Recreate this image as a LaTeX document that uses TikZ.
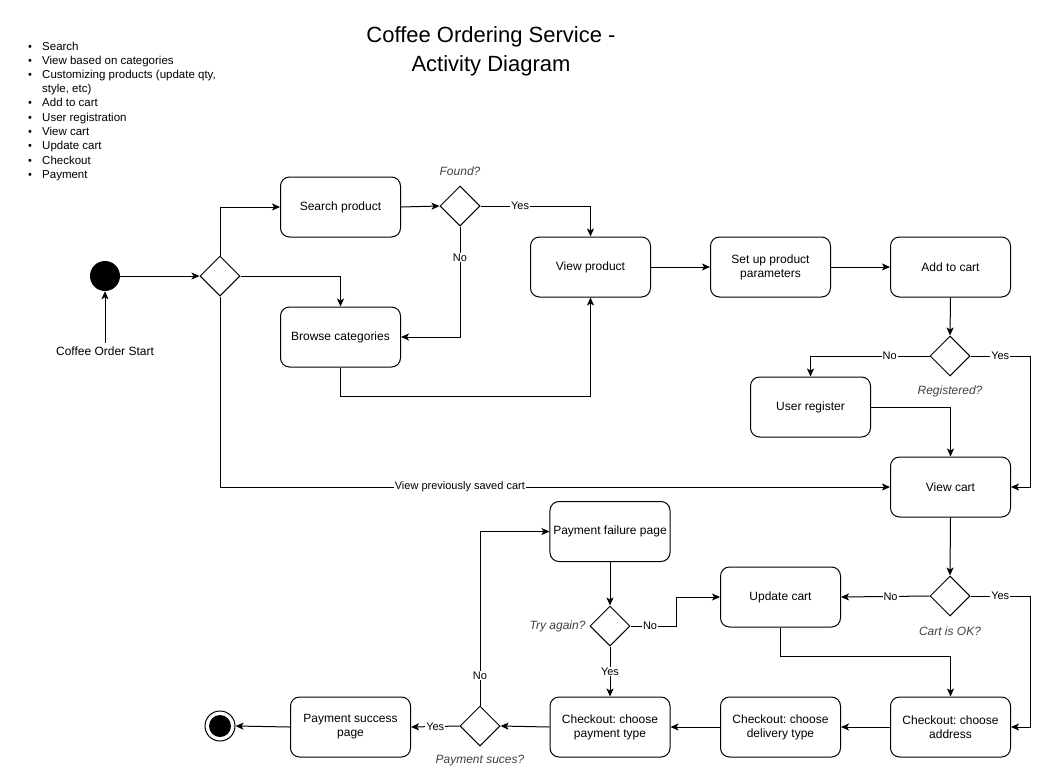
\documentclass[tikz,border=0pt]{standalone}
\usepackage{fontspec}
\setmainfont{Liberation Sans}
\usetikzlibrary{shapes.geometric,arrows.meta}
\frenchspacing
\begin{document}
\begin{tikzpicture}[x=1pt,y=-1pt,
  box/.style={draw, rounded corners=9pt, minimum width=120pt, minimum height=60pt, align=center, line width=1pt, font=\fontsize{12}{14}\selectfont},
  dec/.style={draw, diamond, minimum width=40pt, minimum height=40pt, inner sep=0pt, line width=1pt},
  arr/.style={-{Stealth[length=8pt,width=7pt,inset=2pt]}, line width=1pt},
  lbl/.style={fill=white, inner sep=1pt, font=\fontsize{11}{13}\selectfont},
  q/.style={font=\itshape\fontsize{12}{14}\selectfont, text=black!75},
  bl/.style={anchor=base west, inner sep=0pt, font=\fontsize{11.5}{13}\selectfont},
  bul/.style={anchor=base, inner sep=0pt, font=\fontsize{11}{13}\selectfont}
]
\useasboundingbox (0,0) rectangle (1039,777);

% title
\node[align=center, font=\fontsize{22}{29}\selectfont] (title) at (491,51) {Coffee Ordering Service -\\Activity Diagram};

% bullet list
\foreach \t/\y/\b in {Search/46/1, View based on categories/60/1, {Customizing products (update qty,}/74/1, {style, etc)}/88/0, Add to cart/102/1, User registration/117/1, View cart/131/1, Update cart/145/1, Checkout/160/1, Payment/174/1}{
  \node[bl] at (42,\y+4) {\t};
  \ifnum\b=1 \node[bul] at (30,\y+4) {•};\fi
}

% nodes
\node[circle, fill=black, minimum size=30pt, inner sep=0pt] (start) at (105,276) {};
\node[font=\fontsize{12}{14}\selectfont] (startlbl) at (105,351) {Coffee Order Start};
\node[dec] (d1) at (220,276) {};
\node[box] (search) at (340.5,207) {Search product};
\node[box] (browse) at (340.5,337) {Browse categories};
\node[dec] (found) at (460,206) {};
\node[q] at (460,171) {Found?};
\node[box] (view) at (590.5,267) {View product};
\node[box] (setup) at (770.5,267) {Set up product\\parameters};
\node[box] (add) at (950.5,267) {Add to cart};
\node[dec] (reg) at (950,356) {};
\node[q] at (950,391) {Registered?};
\node[box] (user) at (810.5,407) {User register};
\node[box] (vc) at (950.5,487) {View cart};
\node[dec] (cok) at (950,596) {};
\node[q] at (950,631) {Cart is OK?};
\node[box] (upd) at (780.5,597) {Update cart};
\node[box] (fail) at (610,531.5) {Payment failure page};
\node[dec] (try) at (610,626) {};
\node[q, anchor=east] at (589,626) {Try again?};
\node[box] (addr) at (950.5,727) {Checkout: choose\\address};
\node[box] (deliv) at (780.5,727) {Checkout: choose\\delivery type};
\node[box] (pay) at (610,727) {Checkout: choose\\payment type};
\node[dec] (ps) at (480,726) {};
\node[q] at (480,761) {Payment suces?};
\node[box] (succ) at (350.5,727) {Payment success\\page};
\node[circle, draw, line width=1pt, minimum size=30pt, inner sep=0pt] (end) at (220,726) {};
\fill (end.center) circle (11pt);

% connectors
\draw[arr] (startlbl.north) -- (start.south);
\draw[arr] (start.east) -- (d1.west);
\draw[arr] (d1.north) |- (search.west);
\draw[arr] (d1.east) -| (browse.north);
\draw[arr] (d1.south) |- node[lbl, pos=0.679]{View previously saved cart} (vc.west);
\draw[arr] (search.east) -- (found.west);
\draw[arr] (found.east) -| node[lbl, pos=0.18]{Yes} (view.north);
\draw[arr] (found.south) |- node[lbl, pos=0.14]{No} (browse.east);
\draw[arr] (browse.south) -- (340.5,396) -| (view.south);
\draw[arr] (view.east) -- (setup.west);
\draw[arr] (setup.east) -- (add.west);
\draw[arr] (add.south) -- (reg.north);
\draw[arr] (reg.west) -| node[lbl, pos=0.167]{No} (user.north);
\draw[arr] (reg.east) -- node[lbl]{Yes} (1030,356) |- (vc.east);
\draw[arr] (user.east) -| (vc.north);
\draw[arr] (vc.south) -- (cok.north);
\draw[arr] (cok.west) -- node[lbl, pos=0.44]{No} (upd.east);
\draw[arr] (cok.east) -- node[lbl]{Yes} (1030,596) |- (addr.east);
\draw[arr] (upd.south) -- (780.5,656) -| (addr.north);
\draw[arr] (addr.west) -- (deliv.east);
\draw[arr] (deliv.west) -- (pay.east);
\draw[arr] (pay.west) -- (ps.east);
\draw[arr] (ps.west) -- node[lbl]{Yes} (succ.east);
\draw[arr] (succ.west) -- (end.east);
\draw[arr] (ps.north) |- node[lbl, pos=0.086]{No} (fail.west);
\draw[arr] (fail.south) -- (try.north);
\draw[arr] (try.east) -- node[lbl, pos=0.43]{No} (676,626) |- (upd.west);
\draw[arr] (try.south) -- node[lbl]{Yes} (pay.north);
\end{tikzpicture}
\end{document}
